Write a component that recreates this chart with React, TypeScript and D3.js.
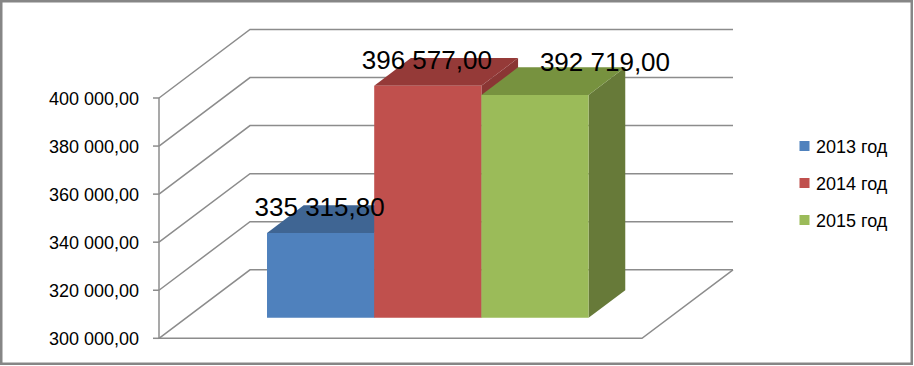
import React from 'react';
import * as d3 from 'd3';

const series = ['2013 год', '2014 год', '2015 год'];
const values = [335315.8, 396577.0, 392719.0];
const yTicks = [300000, 320000, 340000, 360000, 380000, 400000];
const frontColors = ['#4F81BD', '#C0504D', '#9BBB59'];
const topColors = ['#3F6593', '#953A38', '#77923F'];
const sideColors = ['#385D8A', '#8A3634', '#677A39'];

const WIDTH = 914;
const HEIGHT = 366;

const locale = d3.formatLocale({ decimal: ',', thousands: ' ', grouping: [3], currency: ['', ''] });
const fmt = locale.format(',.2f');

export default function App() {
  const x0 = 159;
  const W = 483;
  const DX = 91;
  const DY = -68.5;
  const d0 = 0.3;
  const d1 = 0.703;

  const y = d3.scaleLinear().domain([300000, 400000]).range([338.3, 98]);
  const xb = d3.scaleBand<string>().domain(series).range([0, W]).paddingInner(0).paddingOuter(0.753);
  const bw = xb.bandwidth();

  const proj = (x: number, v: number, d: number): [number, number] => [x0 + x + d * DX, y(v) + d * DY];
  const pts = (arr: [number, number][]) => arr.map((p) => p.join(',')).join(' ');
  const line = d3.line();

  const grid = '#8C8C8C';
  const labelShift: [number, number][] = [[-1, -17], [-1, -17], [70, -23.5]];

  return (
    <svg width={WIDTH} height={HEIGHT} style={{ position: 'absolute', left: 0, top: 0 }} fontFamily="'Liberation Sans', Arial, sans-serif">
      <rect x={0} y={0} width={WIDTH} height={HEIGHT} fill="#fff" />
      <rect x={1.25} y={1.25} width={WIDTH - 3.5} height={HEIGHT - 3.5} fill="none" stroke="#868686" strokeWidth={2.5} />

      {/* walls gridlines */}
      {yTicks.map((t) => (
        <g key={t}>
          <path d={line([proj(0, t, 0), proj(0, t, 1), proj(W, t, 1)]) || ''} fill="none" stroke={grid} strokeWidth={1.5} />
          <path d={line([[x0 - 6, y(t)], [x0, y(t)]]) || ''} stroke={grid} strokeWidth={1.5} />
          <text x={139} y={y(t) + 7} fontSize={18} textAnchor="end" fill="#000">{fmt(t)}</text>
        </g>
      ))}
      {/* floor */}
      <path d={line([proj(0, 300000, 0), proj(W, 300000, 0), proj(W, 300000, 1)]) || ''} fill="none" stroke={grid} strokeWidth={1.5} />
      {/* front vertical axis */}
      <path d={line([proj(0, 300000, 0), proj(0, 400000, 0)]) || ''} fill="none" stroke={grid} strokeWidth={1.5} />

      {/* bars */}
      {series.map((s, i) => {
        const xl = xb(s) as number;
        const xr = xl + bw;
        const v = values[i];
        const base = 300000;
        const front: [number, number][] = [proj(xl, base, d0), proj(xr, base, d0), proj(xr, v, d0), proj(xl, v, d0)];
        const top: [number, number][] = [proj(xl, v, d0), proj(xr, v, d0), proj(xr, v, d1), proj(xl, v, d1)];
        const side: [number, number][] = [proj(xr, base, d0), proj(xr, v, d0), proj(xr, v, d1), proj(xr, base, d1)];
        return (
          <g key={s}>
            <polygon points={pts(side)} fill={sideColors[i]} />
            <polygon points={pts(top)} fill={topColors[i]} />
            <polygon points={pts(front)} fill={frontColors[i]} />
          </g>
        );
      })}

      {/* data labels */}
      {series.map((s, i) => {
        const xl = xb(s) as number;
        const [cx, cy] = proj(xl + bw / 2, values[i], d0);
        return (
          <text key={s} x={cx + labelShift[i][0]} y={cy + labelShift[i][1]} fontSize={26} textAnchor="middle" fill="#000">
            {fmt(values[i])}
          </text>
        );
      })}

      {/* legend */}
      {series.map((s, i) => {
        const cy = 146 + i * 37;
        return (
          <g key={s}>
            <rect x={799.5} y={cy - 5} width={10} height={10} fill={frontColors[i]} />
            <text x={816} y={cy + 6.5} fontSize={18} fill="#000">{s}</text>
          </g>
        );
      })}
    </svg>
  );
}
